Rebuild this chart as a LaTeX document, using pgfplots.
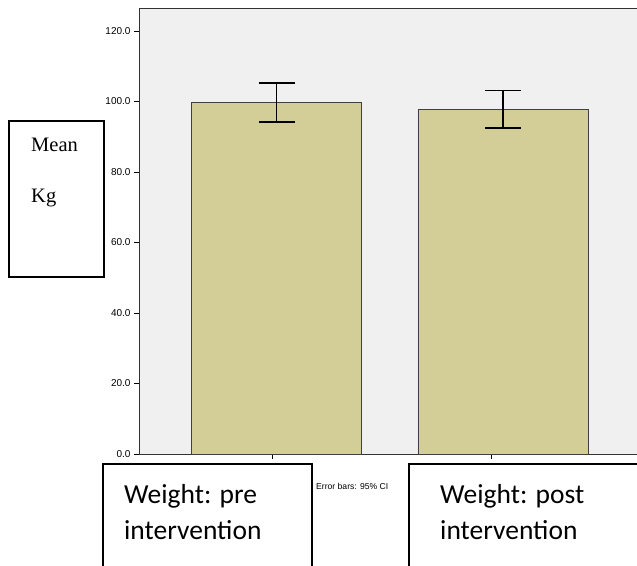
\documentclass[border=0pt]{standalone}
\usepackage{pgfplots}
\pgfplotsset{compat=1.18}
\usepackage{fontspec}
\setmainfont{Liberation Sans}
\newfontfamily\serifface{Liberation Serif}
\newfontfamily\calface{Carlito}
\definecolor{barfill}{RGB}{211,206,151}
\definecolor{plotbg}{RGB}{240,240,240}
\begin{document}
\begin{tikzpicture}[x=1pt,y=1pt]
\path[use as bounding box] (0,0) rectangle (637,565);
\begin{axis}[
  at={(139pt,111pt)}, anchor=south west,
  width=498pt, height=446pt, scale only axis,
  xmin=-0.608, xmax=1.592, ymin=0, ymax=126.5,
  axis background/.style={fill=plotbg},
  axis line style={black!80, line width=0.8pt},
  ytick={0,20,40,60,80,100,120},
  yticklabel style={font=\fontsize{10}{10}\selectfont, /pgf/number format/.cd, fixed, fixed zerofill, precision=1},
  /pgf/number format/assume math mode=true,
  xtick={-0.02,0.95}, xticklabels={},
  tick align=outside, major tick length=5pt,
  tick style={black, line width=0.8pt},
  axis x line*=bottom, axis y line*=left,
  clip=false,
]
\addplot[ybar, bar width=0.751, fill=barfill, draw=black!75, line width=0.8pt,
  error bars/.cd, y dir=both, y explicit,
  error mark options={black, line width=1.5pt, mark size=18pt, rotate=90},
  error bar style={black, line width=1.5pt}]
  coordinates {(0,99.8) +=(0,5.4) -=(0,5.6) (1,97.8) +=(0,5.3) -=(0,5.4)};
\draw[black!80, line width=0.8pt] (rel axis cs:0,1) -- (rel axis cs:1,1);
\end{axis}
% Y label box
\draw[line width=1.5pt, fill=white] (9,288) rectangle (104,444);
\node[anchor=base west, font=\serifface\fontsize{20.5}{20}\selectfont, inner sep=0pt] at (31,413) {Mean};
\node[anchor=base west, font=\serifface\fontsize{20.5}{20}\selectfont, inner sep=0pt] at (31,362) {Kg};
% bottom boxes
\fill[white] (103,0) rectangle (312,101);
\draw[line width=1.5pt] (103,-2) -- (103,101) -- (312,101) -- (312,-2);
\fill[white] (409,0) rectangle (640,101);
\draw[line width=1.5pt] (409,-2) -- (409,101) -- (640,101);
\node[anchor=base west, font=\calface\fontsize{27.5}{27}\selectfont, inner sep=0pt] at (124,62) {Weight: pre};
\node[anchor=base west, font=\calface\fontsize{27.5}{27}\selectfont, inner sep=0pt] at (124,26) {intervention};
\node[anchor=base west, font=\calface\fontsize{27.5}{27}\selectfont, inner sep=0pt] at (440,62) {Weight: post};
\node[anchor=base west, font=\calface\fontsize{27.5}{27}\selectfont, inner sep=0pt] at (440,26) {intervention};
\node[anchor=base west, font=\fontsize{8.6}{8}\selectfont, inner sep=0pt] at (316,75) {Error bars: 95\% CI};
\end{tikzpicture}
\end{document}
